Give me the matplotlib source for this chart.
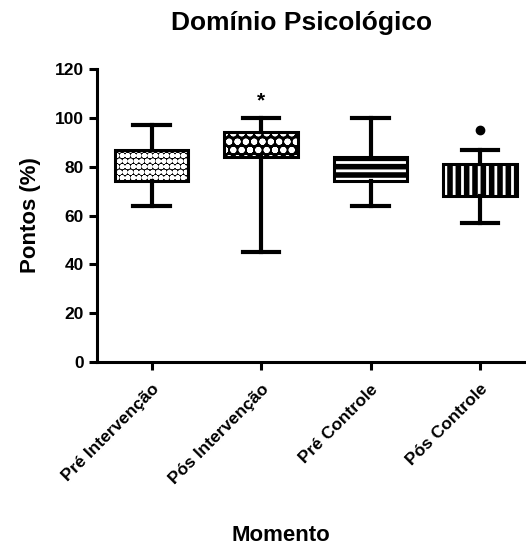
import matplotlib.pyplot as plt
from matplotlib.patches import PathPatch

plt.rcParams['font.family'] = ['Liberation Sans', 'DejaVu Sans']
plt.rcParams['font.weight'] = 'bold'
plt.rcParams['hatch.linewidth'] = 2.0

groups = ['Pré Intervenção', 'Pós Intervenção', 'Pré Controle', 'Pós Controle']
whislo = [64, 45, 64, 57]
q1 = [74, 84, 74, 68]
med = [80, 89, 79, 74]
q3 = [87, 94, 84, 81]
whishi = [97, 100, 100, 87]
fliers = [[], [], [], [95]]
hatches = ['ooo', 'oo', '--', '||']

stats = []
for i in range(len(groups)):
    stats.append(dict(label=groups[i], whislo=whislo[i], q1=q1[i], med=med[i],
                      q3=q3[i], whishi=whishi[i], fliers=fliers[i]))

fig = plt.figure(figsize=(5.26, 5.47), dpi=100)
ax = fig.add_axes([0.184, 0.338, 0.816, 0.536])

bp = ax.bxp(stats, positions=[1, 2, 3, 4], widths=0.67, patch_artist=True,
            boxprops=dict(facecolor='black', edgecolor='white', linewidth=0),
            whiskerprops=dict(color='black', linewidth=3),
            capprops=dict(color='black', linewidth=3),
            medianprops=dict(color='black', linewidth=0),
            flierprops=dict(marker='o', markerfacecolor='black',
                            markeredgecolor='black', markersize=6))
for box, h in zip(bp['boxes'], hatches):
    box.set_hatch(h)
    ax.add_patch(PathPatch(box.get_path(), fill=False, edgecolor='black',
                           linewidth=2.2, zorder=box.get_zorder() + 1))

ax.text(2, 107, '*', ha='center', va='center', fontsize=15)

ax.set_xlim(0.5, 4.42)
ax.set_ylim(0, 120)
ax.set_yticks([0, 20, 40, 60, 80, 100, 120])
ax.set_xticks([1, 2, 3, 4])
ax.set_xticklabels(groups, rotation=45, ha='right', rotation_mode='anchor')

for s in ['top', 'right']:
    ax.spines[s].set_visible(False)
for s in ['left', 'bottom']:
    ax.spines[s].set_linewidth(2.2)
ax.tick_params(width=2.2, length=6, labelsize=12.5)
ax.tick_params(axis='x', pad=8)

ax.set_title('Domínio Psicológico', fontsize=19, fontweight='bold', x=0.476, pad=28)
ax.set_ylabel('Pontos (%)', fontsize=16, fontweight='bold', labelpad=10)
ax.set_xlabel('Momento', fontsize=16, fontweight='bold')
ax.xaxis.set_label_coords(0.43, -0.556)

fig.savefig('out.png', dpi=100)
